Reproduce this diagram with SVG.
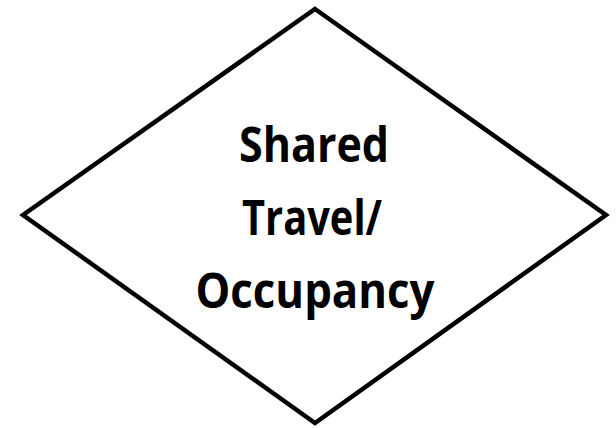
<svg xmlns="http://www.w3.org/2000/svg" width="616" height="428" viewBox="0 0 616 428">
<style>
.shape{fill:#ffffff;stroke:#000000;stroke-width:4.5;stroke-linejoin:miter}
.lbl{font-family:"Open Sans","Liberation Sans",sans-serif;font-weight:bold;font-size:48px;fill:#000000;text-anchor:middle}
</style>
<rect width="616" height="428" fill="#ffffff"/>
<g id="node-shared-travel">
<polygon class="shape" points="315,9 606,215 315,423 23,215"/>
<text class="lbl" x="314" y="162" textLength="150" lengthAdjust="spacingAndGlyphs">Shared</text>
<text class="lbl" x="312" y="235" textLength="140" lengthAdjust="spacingAndGlyphs">Travel/</text>
<text class="lbl" x="315" y="308" textLength="239" lengthAdjust="spacingAndGlyphs">Occupancy</text>
</g>
<g id="connectors"></g>
</svg>
